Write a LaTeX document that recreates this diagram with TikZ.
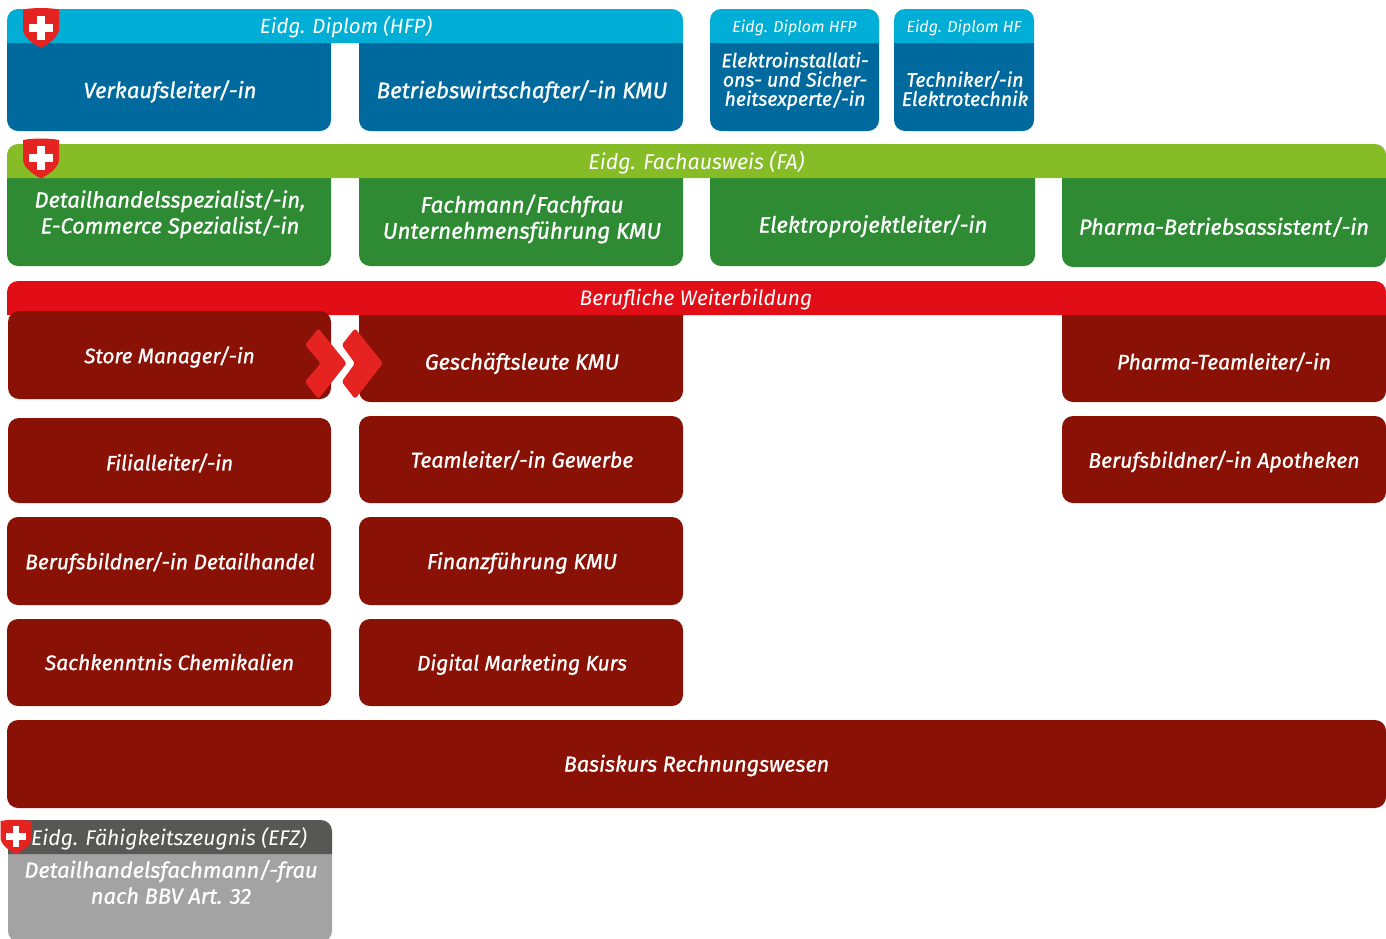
\documentclass[tikz,border=0pt]{standalone}
\usepackage{fontspec}
\setmainfont{Fira Sans}
\newfontfamily\bodyf[ItalicFeatures={FakeBold=1.0}]{Fira Sans}
\definecolor{lblue}{HTML}{00AED6}
\definecolor{dblue}{HTML}{006A9E}
\definecolor{lgreen}{HTML}{86BC25}
\definecolor{dgreen}{HTML}{2E8B34}
\definecolor{hred}{HTML}{E10E17}
\definecolor{dred}{HTML}{8A1106}
\definecolor{dgrey}{HTML}{575756}
\definecolor{lgrey}{HTML}{A3A3A3}
\definecolor{shieldred}{HTML}{E52421}
\tikzset{
  head/.style={text=white,font=\fontsize{#1}{24}\selectfont\itshape,inner sep=0pt,align=center},
  lab/.style={text=white,font=\fontsize{#1}{26}\selectfont\bodyf\itshape,inner sep=0pt,align=center},
  labtight/.style={text=white,font=\fontsize{#1}{19.2}\selectfont\bodyf\itshape,inner sep=0pt,align=center},
  chev/.style={fill=shieldred,rounded corners=2.5pt},
  pics/shield/.style={code={
    \fill[shieldred] (-18,-18) .. controls (-8,-20) and (8,-20) .. (18,-18)
      -- (18,1) .. controls (18,10) and (8,16) .. (0,20.5)
      .. controls (-8,16) and (-18,10) .. (-18,1) -- cycle;
    \fill[white] (-4,-12) rectangle (4,12);
    \fill[white] (-12,-4) rectangle (12,4);
  }}
}
% name, x0, y0, x1, y1, colour: top corners rounded, bottom square
\newcommand{\topbar}[6]{\path[fill=#6,rounded corners=11pt] (#2,#5) [sharp corners] -- (#2,#5) [rounded corners=11pt] -- (#2,#3) -- (#4,#3) [sharp corners] -- (#4,#5) -- cycle;\coordinate (#1) at ({(#2+#4)/2},{(#3+#5)/2});}
% name, x0, y0, x1, y1, colour: bottom corners rounded, top square
\newcommand{\botbox}[6]{\path[fill=#6] (#2,#3) [rounded corners=11pt] -- (#2,#5) -- (#4,#5) [sharp corners] -- (#4,#3) -- cycle;\coordinate (#1) at ({(#2+#4)/2},{(#3+#5)/2});}
% name, x0, y0, x1, y1, colour: all corners rounded
\newcommand{\fullbox}[6]{\path[fill=#6,rounded corners=11pt] (#2,#3) rectangle (#4,#5);\coordinate (#1) at ({(#2+#4)/2},{(#3+#5)/2});}
\begin{document}
\begin{tikzpicture}[x=1pt,y=-1pt]
\useasboundingbox (0,0) rectangle (1386,938);
% Diplom row
\botbox{b1}{7}{43}{331}{131}{dblue}
\botbox{b2}{359}{43}{683}{131}{dblue}
\topbar{h1}{7}{9}{683}{43}{lblue}
\botbox{b3}{710}{43}{879}{131}{dblue}
\topbar{h2}{710}{9}{879}{43}{lblue}
\botbox{b4}{894}{43}{1034}{131}{dblue}
\topbar{h3}{894}{9}{1034}{43}{lblue}
\node[head=20.5] (t1) at (346,27.5) {Eidg. Diplom (HFP)};
\node[head=16] (t2) at (794.5,27.5) {Eidg. Diplom HFP};
\node[head=16] (t3) at (964,27.5) {Eidg. Diplom HF};
\node[lab=22] (n1) at (170,91.5) {Verkaufsleiter/-in};
\node[lab=22.4] (n2) at (522,91.5) {Betriebswirtschafter/-in KMU};
\node[labtight=19.5] (n3) at (795,81) {Elektroinstallati-\\ons- und Sicher-\\heitsexperte/-in};
\node[labtight=19.6] (n4) at (965,88.5) {Techniker/-in\\Elektrotechnik};
% Fachausweis row
\botbox{g1}{7}{178}{331}{266}{dgreen}
\botbox{g2}{359}{178}{683}{266}{dgreen}
\botbox{g3}{710}{178}{1035}{266}{dgreen}
\botbox{g4}{1062}{178}{1386}{267}{dgreen}
\topbar{h4}{7}{144}{1386}{178}{lgreen}
\node[head=21.4] (t4) at (696.5,162.5) {Eidg. Fachausweis (FA)};
\node[lab=21.9] (n5) at (170,214) {Detailhandelsspezialist/-in,\\E-Commerce Spezialist/-in};
\node[lab=22.4] (n6) at (522,219) {Fachmann/Fachfrau\\Unternehmensführung KMU};
\node[lab=22.2] (n7) at (873,226) {Elektroprojektleiter/-in};
\node[lab=21.8] (n8) at (1224,227) {Pharma-Betriebsassistent/-in};
% Weiterbildung
\topbar{h5}{7}{281}{1386}{315}{hred}
\fullbox{r1}{8}{311}{331}{399}{dred}
\botbox{r2}{359}{315}{683}{402}{dred}
\botbox{r3}{1062}{315}{1386}{402}{dred}
\fullbox{r4}{8}{418}{331}{503}{dred}
\fullbox{r5}{359}{416}{683}{503}{dred}
\fullbox{r6}{1062}{416}{1386}{503}{dred}
\fullbox{r7}{7}{517}{331}{605}{dred}
\fullbox{r8}{359}{517}{683}{605}{dred}
\fullbox{r9}{7}{619}{331}{706}{dred}
\fullbox{r10}{359}{619}{683}{706}{dred}
\fullbox{r11}{7}{720}{1386}{808}{dred}
\node[head=21] (t5) at (696,300) {Berufliche Weiterbildung};
\node[lab=20.8] (n9) at (169.5,357) {Store Manager/-in};
\node[lab=21.9] (n10) at (522,363.5) {Geschäftsleute KMU};
\node[lab=21] (n11) at (1224,362) {Pharma-Teamleiter/-in};
\node[lab=20.8] (n12) at (169.5,463) {Filialleiter/-in};
\node[lab=21.3] (n13) at (522,460) {Teamleiter/-in Gewerbe};
\node[lab=21.2] (n14) at (1224,461.5) {Berufsbildner/-in Apotheken};
\node[lab=21.1] (n15) at (170,563) {Berufsbildner/-in Detailhandel};
\node[lab=21.7] (n16) at (522,563) {Finanzführung KMU};
\node[lab=21] (n17) at (169.5,662) {Sachkenntnis Chemikalien};
\node[lab=20.9] (n18) at (522,664.5) {Digital Marketing Kurs};
\node[lab=21.6] (n19) at (696.5,765.5) {Basiskurs Rechnungswesen};
% chevrons
\path[chev] (318.3,328.3) -- (346.7,363.3) -- (318.3,399) -- (305,381.7) -- (320.7,363.3) -- (305,345) -- cycle;
\path[chev] (355,328.3) -- (383,363.3) -- (355,399) -- (341.7,381.7) -- (355,363.3) -- (341.7,345) -- cycle;
% EFZ
\botbox{e1}{8}{854}{332}{942}{lgrey}
\topbar{h6}{8}{820}{332}{854}{dgrey}
\node[head=21.2] (t6) at (169,838.5) {Eidg. Fähigkeitszeugnis (EFZ)};
\node[lab=21.9] (n20) at (171,882) {Detailhandelsfachmann/-frau\\nach BBV Art. 32};
% shields
\pic at (41,27.5) {shield};
\pic at (41,158) {shield};
\pic[scale=0.86] at (16,836.5) {shield};
\end{tikzpicture}
\end{document}
